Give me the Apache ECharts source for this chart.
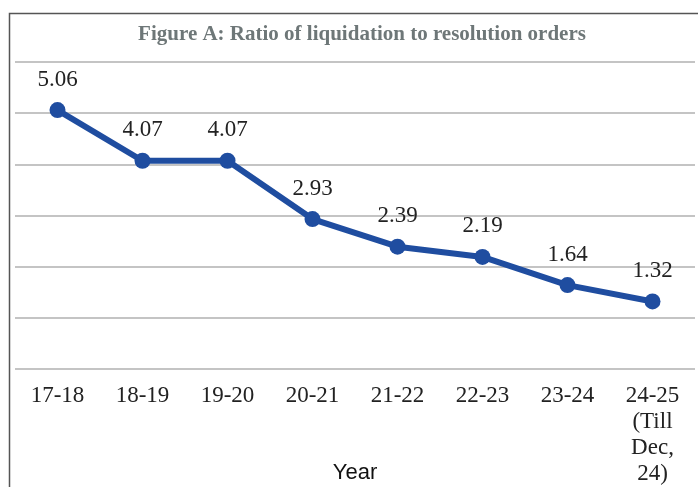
<!DOCTYPE html>
<html>
<head>
<meta charset="utf-8">
<script src="https://cdn.jsdelivr.net/npm/echarts@6/dist/echarts.min.js"></script>
<style>
  html, body { margin: 0; padding: 0; background: #fff; }
  #chart { width: 698px; height: 487px; }
</style>
</head>
<body>
<div id="chart"></div>
<script>
// years and ratio values
var years = ['17-18', '18-19', '19-20', '20-21', '21-22', '22-23', '23-24', '24-25\n(Till\nDec,\n24)'];
var ratios = [5.06, 4.07, 4.07, 2.93, 2.39, 2.19, 1.64, 1.32];

var chart = echarts.init(document.getElementById('chart'));

var option = {
    backgroundColor: '#fff',
    animation: false,
    title: {
        text: 'Figure A: Ratio of liquidation to resolution orders',
        left: 357,
        top: 19,
        textAlign: 'center',
        textStyle: {
            fontFamily: 'Liberation Serif',
            fontWeight: 'bold',
            fontSize: 21,
            color: '#6e7778'
        }
    },
    // outer frame of the figure
    graphic: [{
        type: 'rect',
        shape: { x: 9.5, y: 13.5, width: 720, height: 500 },
        style: { fill: 'none', stroke: '#555', lineWidth: 1.5 },
        silent: true
    }],
    grid: {
        left: 15,
        right: 3,
        top: 62,
        bottom: 118,
        outerBoundsMode: 'none'
    },
    xAxis: {
        type: 'category',
        data: years,
        boundaryGap: true,
        name: 'Year',
        nameLocation: 'middle',
        nameGap: 93,
        nameMoveOverlap: false,
        nameTextStyle: {
            fontFamily: 'Liberation Sans',
            fontSize: 22,
            color: '#111'
        },
        axisLine: { show: false },
        axisTick: { show: false },
        axisLabel: {
            interval: 0,
            margin: 14,
            fontFamily: 'Liberation Serif',
            fontSize: 23,
            lineHeight: 26,
            color: '#222'
        }
    },
    yAxis: {
        type: 'value',
        min: 0,
        max: 6,
        interval: 1,
        axisLabel: { show: false },
        axisLine: { show: false },
        axisTick: { show: false },
        splitLine: {
            lineStyle: { color: '#c4c4c4', width: 2 }
        }
    },
    series: [{
        type: 'line',
        data: ratios,
        symbol: 'circle',
        symbolSize: 16,
        lineStyle: { color: '#1f4da0', width: 6 },
        itemStyle: { color: '#1f4da0' },
        label: {
            show: true,
            position: 'top',
            distance: 11,
            fontFamily: 'Liberation Serif',
            fontSize: 23,
            color: '#222',
            formatter: function (p) { return p.value.toFixed(2); }
        }
    }]
};

chart.setOption(option);
</script>
</body>
</html>
